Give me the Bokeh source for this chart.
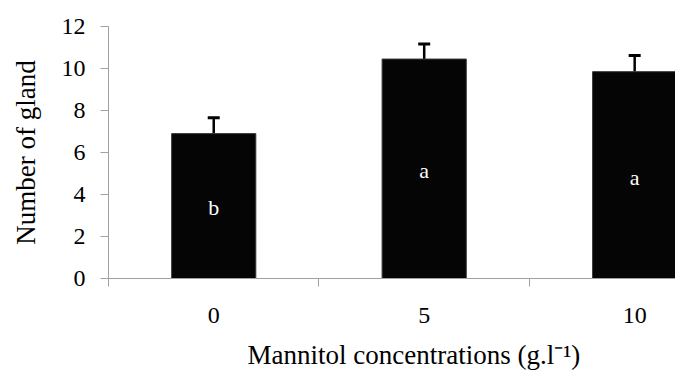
from bokeh.plotting import figure
from bokeh.models import (ColumnDataSource, Range1d, FixedTicker, Whisker, TeeHead, Title)
from bokeh.core.properties import value
from bokeh.embed import file_html
from bokeh.resources import INLINE

# data
concentrations = ["0", "5", "10"]
glands = [6.9, 10.45, 9.85]
errors = [0.75, 0.72, 0.77]
letters = ["b", "a", "a"]
y_ticks = [0, 2, 4, 6, 8, 10, 12]

centers = [i + 0.5 for i in range(len(concentrations))]
src = ColumnDataSource(dict(
    x=centers,
    top=glands,
    upper=[g + e for g, e in zip(glands, errors)],
    lower=glands,
    lab_y=[g * 0.49 for g in glands],
    letter=letters,
))

FONT = "Liberation Serif"

p = figure(width=675, height=382, output_backend="svg", toolbar_location=None,
           x_range=Range1d(0, 2.694), y_range=Range1d(0, 12),
           min_border_left=108, min_border_right=0, min_border_top=26,
           min_border_bottom=104)
p.outline_line_color = None
p.grid.grid_line_color = None
p.background_fill_color = "white"

p.vbar(x="x", top="top", width=0.4, bottom=0, source=src,
       fill_color="#050505", line_color="#3a3a3a", line_width=1)

w = Whisker(base="x", upper="upper", lower="lower", source=src,
            line_color="black", line_width=2.5,
            upper_head=TeeHead(size=12, line_width=3, line_color="black"),
            lower_head=None)
p.add_layout(w)

p.text(x="x", y="lab_y", text="letter", source=src, text_color="white",
       text_font=value(FONT), text_font_size="22px", text_align="center",
       text_baseline="middle")

# y axis
p.yaxis.ticker = FixedTicker(ticks=y_ticks)
p.yaxis.axis_line_color = "#a0a0a0"
p.yaxis.major_tick_line_color = "#a0a0a0"
p.yaxis.major_tick_out = 8
p.yaxis.major_tick_in = 0
p.yaxis.minor_tick_line_color = None
p.yaxis.major_label_text_font = FONT
p.yaxis.major_label_text_font_size = "24px"
p.yaxis.major_label_text_color = "black"
p.yaxis.major_label_standoff = 15
p.yaxis.axis_label = "Number of gland"
p.yaxis.axis_label_text_font = FONT
p.yaxis.axis_label_text_font_size = "27px"
p.yaxis.axis_label_text_font_style = "normal"
p.yaxis.axis_label_text_color = "black"
p.yaxis.axis_label_standoff = 18

# x axis
p.xaxis.ticker = FixedTicker(ticks=centers, minor_ticks=[0, 1, 2, 3])
p.xaxis.major_label_overrides = {c: s for c, s in zip(centers, concentrations)}
p.xaxis.axis_line_color = "#a0a0a0"
p.xaxis.major_tick_line_color = None
p.xaxis.major_tick_out = 0
p.xaxis.minor_tick_line_color = "#a0a0a0"
p.xaxis.minor_tick_out = 8
p.xaxis.minor_tick_in = 0
p.xaxis.major_label_text_font = FONT
p.xaxis.major_label_text_font_size = "24px"
p.xaxis.major_label_text_color = "black"
p.xaxis.major_label_standoff = 21

xt = Title(text="Mannitol concentrations (g.l⁻¹)", align="left", offset=139,
           text_font=FONT, text_font_size="27px", text_font_style="normal",
           text_color="black", standoff=25)
p.add_layout(xt, "below")

open("out.html", "w").write(file_html(p, INLINE))
